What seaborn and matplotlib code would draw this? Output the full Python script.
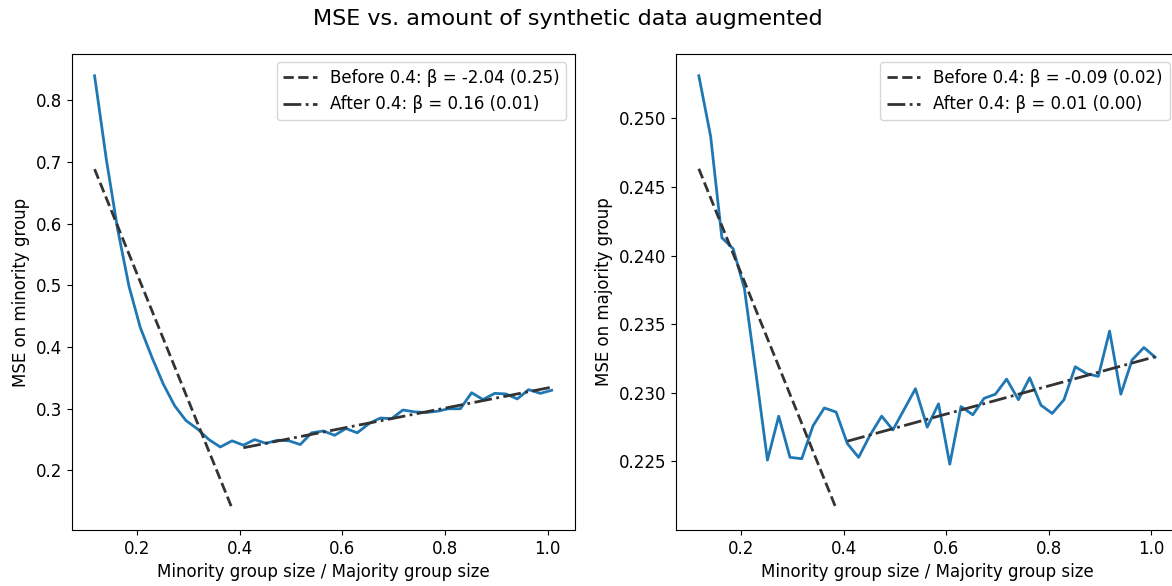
import numpy as np
import pandas as pd
import matplotlib
matplotlib.use("Agg")
import matplotlib.pyplot as plt
import seaborn as sns

# ---- data ----
ratio = [0.117, 0.140, 0.162, 0.184, 0.206, 0.229, 0.251, 0.273, 0.295, 0.318,
         0.340, 0.362, 0.385, 0.407, 0.429, 0.451, 0.474, 0.496, 0.518, 0.540,
         0.563, 0.585, 0.607, 0.629, 0.652, 0.674, 0.696, 0.718, 0.741, 0.763,
         0.785, 0.807, 0.830, 0.852, 0.874, 0.897, 0.919, 0.941, 0.963, 0.986,
         1.008]

mse_minority = [0.840, 0.704, 0.591, 0.499, 0.432, 0.383, 0.340, 0.305, 0.281, 0.267,
                0.250, 0.238, 0.248, 0.241, 0.250, 0.244, 0.249, 0.248, 0.242, 0.261,
                0.264, 0.257, 0.268, 0.261, 0.276, 0.285, 0.284, 0.298, 0.295, 0.294,
                0.296, 0.300, 0.300, 0.326, 0.315, 0.325, 0.324, 0.316, 0.331, 0.325,
                0.330]

mse_majority = [0.2531, 0.2487, 0.2413, 0.2405, 0.2376, 0.2313, 0.2251, 0.2283, 0.2253, 0.2252,
                0.2276, 0.2289, 0.2286, 0.2263, 0.2253, 0.2269, 0.2283, 0.2273, 0.2288, 0.2303,
                0.2275, 0.2292, 0.2248, 0.2290, 0.2284, 0.2296, 0.2299, 0.2310, 0.2295, 0.2311,
                0.2291, 0.2285, 0.2295, 0.2319, 0.2314, 0.2312, 0.2345, 0.2299, 0.2324, 0.2333,
                0.2326]

breakpoint = 0.4
labels_minority = ["Before 0.4: β = -2.04 (0.25)", "After 0.4: β = 0.16 (0.01)"]
labels_majority = ["Before 0.4: β = -0.09 (0.02)", "After 0.4: β = 0.01 (0.00)"]
ylabels = ["MSE on minority group", "MSE on majority group"]
xlabel = "Minority group size / Majority group size"
title = "MSE vs. amount of synthetic data augmented"

plt.rcParams['font.family'] = ['DejaVu Sans']
plt.rcParams['font.size'] = 12

fig = plt.figure(figsize=(11.72, 5.86), dpi=100)
ax1 = fig.add_axes([0.0612, 0.0956, 0.429, 0.812])
ax2 = fig.add_axes([0.5768, 0.0956, 0.4283, 0.812])

fit_color = (0.2, 0.2, 0.2)

for ax, vals, labs, ylab in [(ax1, mse_minority, labels_minority, ylabels[0]),
                             (ax2, mse_majority, labels_majority, ylabels[1])]:
    df = pd.DataFrame({"x": ratio, "y": vals})
    sns.lineplot(data=df, x="x", y="y", ax=ax, color="#1f77b4", linewidth=2)
    before = df[df["x"] < breakpoint]
    after = df[df["x"] >= breakpoint]
    sns.regplot(data=before, x="x", y="y", ax=ax, scatter=False, ci=None,
                color=fit_color, label=labs[0],
                line_kws={"linestyle": "--", "linewidth": 2})
    sns.regplot(data=after, x="x", y="y", ax=ax, scatter=False, ci=None,
                color=fit_color, label=labs[1],
                line_kws={"linestyle": "-.", "linewidth": 2})
    ax.set_xlabel(xlabel)
    ax.set_ylabel(ylab)
    ax.set_xticks([0.2, 0.4, 0.6, 0.8, 1.0])
    ax.legend(loc="upper right")

fig.suptitle(title, x=0.4846, y=0.985, fontsize=16)
fig.savefig("out.png", dpi=100)
